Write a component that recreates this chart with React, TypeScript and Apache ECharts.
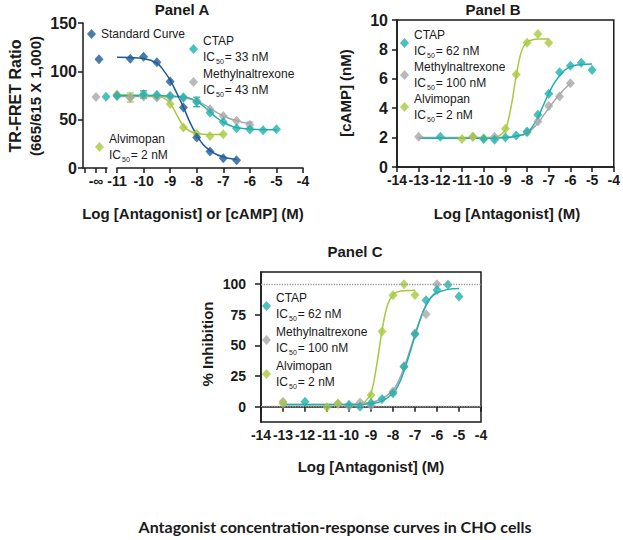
import React, { useEffect, useRef } from "react";
import * as echarts from "echarts";

// ---------- Panel A (TR-FRET ratio) ----------
const aStdInf = 112.5;
const aStdX = [-10.5, -10, -9.5, -9, -8.5, -8, -7.5, -7, -6.5];
const aStdY = [113, 115, 109.5, 89.5, 62.5, 31.5, 17, 10, 8];
const aStdFitX = [-11, -10.5, -10, -9.5, -9.25, -9, -8.75, -8.5, -8.25, -8, -7.75, -7.5, -7.25, -7, -6.75, -6.5];
const aStdFitY = [114.5, 114.2, 113.3, 108.5, 101, 91, 77.5, 63, 47, 34, 24, 18, 14, 11.5, 9.8, 9];

const aCtapInf = 73.8;
const aCtapX = [-11, -10, -9.5, -9, -8.5, -8, -7.5, -7, -6.5, -6, -5.5, -5];
const aCtapY = [74.8, 76.2, 75.9, 74.8, 73.1, 68.3, 57.2, 47.6, 41.2, 39.8, 39, 40.2];
const aCtapFitX = [-11, -10, -9.5, -9, -8.5, -8.25, -8, -7.75, -7.5, -7.25, -7, -6.75, -6.5, -6, -5.5, -5];
const aCtapFitY = [75, 75, 75, 74.5, 73.5, 72, 69, 64, 58, 52, 47.5, 44, 42, 40.3, 39.7, 39.5];

const aMethInf = 73.5;
const aMethX = [-11, -10.5, -10, -9.5, -9, -8.5, -8, -7.5, -7, -6.5, -6];
const aMethY = [74.5, 73, 74, 73, 73.5, 72.5, 69.5, 60.7, 53.8, 49, 44.8];
const aMethFitX = [-11, -10, -9, -8.5, -8, -7.75, -7.5, -7.25, -7, -6.75, -6.5, -6.25, -6];
const aMethFitY = [74, 74, 73.8, 73, 69.5, 66, 62, 57.5, 54, 51, 49, 47, 46];

const aAlviX = [-11, -10.5, -10, -9.5, -9, -8.5, -8, -7.5, -7];
const aAlviY = [76, 73, 75, 74, 66.2, 42, 35.5, 33.1, 34.8];
const aAlviFitX = [-11, -10.5, -10, -9.5, -9.25, -9, -8.75, -8.5, -8.25, -8, -7.75, -7.5, -7];
const aAlviFitY = [75.5, 75.4, 75.2, 74.5, 72.5, 67, 55, 43.5, 38, 35.8, 35, 34.7, 34.6];

// error bars [x, low, high]
const aCtapErr = [[-10, 72.3, 79.8], [-8, 63.4, 73.2]];
const aMethErr = [[-6, 42.2, 47.4]];
const aAlviErr = [[-10.5, 68.3, 77.6]];

// ---------- Panel B (cAMP) ----------
const bCtapX = [-12, -10, -9.5, -9, -8.5, -8, -7.5, -7, -6.5, -6, -5.5, -5];
const bCtapY = [2.05, 1.9, 1.85, 2.0, 2.15, 2.42, 3.55, 4.98, 6.45, 6.88, 7.1, 6.6];
const bCtapFitX = [-13, -12, -11, -10, -9.5, -9, -8.5, -8, -7.75, -7.5, -7.25, -7, -6.75, -6.5, -6.25, -6, -5.5, -5];
const bCtapFitY = [1.95, 1.95, 1.95, 1.95, 1.96, 2.0, 2.1, 2.3, 2.75, 3.35, 4.2, 5.0, 5.7, 6.2, 6.6, 6.83, 6.97, 7.0];

const bMethX = [-13, -10.5, -9.5, -8, -7.5, -7, -6.5, -6];
const bMethY = [2.05, 2.05, 2.05, 2.35, 3.1, 4.15, 4.8, 5.7];
const bMethFitX = [-13, -12, -11, -10, -9, -8.5, -8, -7.5, -7, -6.5, -6];
const bMethFitY = [2.0, 2.0, 2.0, 2.0, 2.0, 2.1, 2.3, 3.0, 4.0, 4.95, 5.7];

const bAlviX = [-11, -10.5, -10, -9, -8.5, -8, -7.5, -7];
const bAlviY = [1.9, 2.05, 1.95, 2.6, 6.3, 8.45, 9.05, 8.45];
const bAlviFitX = [-11, -10, -9.5, -9.25, -9, -8.75, -8.5, -8.25, -8, -7.75, -7.5, -7];
const bAlviFitY = [1.95, 1.95, 2.0, 2.15, 2.55, 4.0, 6.2, 7.9, 8.5, 8.65, 8.7, 8.7];

// ---------- Panel C (% inhibition) ----------
const cCtapX = [-12, -10, -9.5, -9, -8.5, -8, -7.5, -7, -6.5, -6, -5.5, -5];
const cCtapY = [4.1, 1.6, 0, 3, 6.3, 10.9, 32.6, 59.2, 87, 95.4, 99.5, 90];
const cCtapFitX = [-13, -11, -10, -9.5, -9, -8.5, -8, -7.75, -7.5, -7.25, -7, -6.75, -6.5, -6.25, -6, -5.5, -5];
const cCtapFitY = [1.5, 1.5, 1.5, 1.7, 2.5, 4.5, 11, 18, 29, 43, 58, 72, 83, 89.5, 93, 95.8, 96.5];

const cMethX = [-13, -10.5, -10, -9.5, -9, -8, -7.5, -7, -6.5, -6];
const cMethY = [4, 2.7, 0.5, 3.5, 1, 12.5, 33, 60, 75.5, 100];
const cMethFitX = [-13, -10, -9.5, -9, -8.5, -8, -7.75, -7.5, -7.25, -7, -6.75, -6.5, -6.25, -6];
const cMethFitY = [2, 2, 2.5, 3.5, 6.5, 13.5, 21, 32, 45, 59, 72, 82.5, 90, 94.5];

const cAlviX = [-13, -11, -10.5, -9, -8.5, -8, -7.5, -7];
const cAlviY = [2.7, -0.5, 2.5, 9.5, 61.4, 91, 100, 91.3];
const cAlviFitX = [-10, -9.5, -9.25, -9, -8.75, -8.5, -8.25, -8, -7.75, -7.5, -7];
const cAlviFitY = [1.5, 2, 4.5, 11, 33, 62, 83, 91.5, 94, 94.7, 95];

const cRefLines = [0, 100];
const cYTicks = [0, 25, 50, 75, 100];

// "-inf" segment of panel A
const infTicks = [0.2, 1.3, 2.3];
const infLabel = 1.3;
const infPos = { std: 1.6, meth: 1.3, ctap: 2.3 };

const C_STD = "#1c5a97";
const C_CTAP = "#1fb0ac";
const C_METH = "#a8a8a8";
const C_ALVI = "#a9c83e";
const INK = "#1a1a1a";
const FONT = "'Liberation Sans', Arial, sans-serif";

const zip = (xs: number[], ys: number[]) => xs.map((x, i) => [x, ys[i]]);

const axisBase = {
  axisLine: { show: true, lineStyle: { color: INK, width: 1.5 } },
  axisTick: { show: true, length: 5, lineStyle: { color: INK, width: 1.5 } },
  axisLabel: { color: INK, fontFamily: FONT, fontWeight: "bold" as const, fontSize: 14, margin: 6 },
  splitLine: { show: false },
};

function scatter(name: string, color: string, data: number[][], xi: number, yi: number, z = 3) {
  return {
    type: "scatter",
    name,
    xAxisIndex: xi,
    yAxisIndex: yi,
    data,
    symbol: "diamond",
    symbolSize: [9, 10],
    itemStyle: { color },
    z,
    silent: true,
  };
}
function fit(name: string, color: string, data: number[][], xi: number, yi: number) {
  return {
    type: "line",
    name: name + " fit",
    xAxisIndex: xi,
    yAxisIndex: yi,
    data,
    smooth: 0.4,
    showSymbol: false,
    symbol: "none",
    lineStyle: { color, width: 1.5 },
    z: 2,
    silent: true,
  };
}
function errBars(color: string, data: number[][], xi: number, yi: number) {
  return {
    type: "custom",
    xAxisIndex: xi,
    yAxisIndex: yi,
    data,
    encode: { x: 0, y: [1, 2] },
    z: 2,
    silent: true,
    renderItem: (_p: any, api: any) => {
      const x = api.value(0);
      const lo = api.coord([x, api.value(1)]);
      const hi = api.coord([x, api.value(2)]);
      const w = 3.5;
      const st = { stroke: color, lineWidth: 1.3 };
      return {
        type: "group",
        children: [
          { type: "line", shape: { x1: lo[0], y1: lo[1], x2: hi[0], y2: hi[1] }, style: st },
          { type: "line", shape: { x1: hi[0] - w, y1: hi[1], x2: hi[0] + w, y2: hi[1] }, style: st },
          { type: "line", shape: { x1: lo[0] - w, y1: lo[1], x2: lo[0] + w, y2: lo[1] }, style: st },
        ],
      };
    },
  };
}

const rich = {
  t: { fontFamily: FONT, fontSize: 12, color: INK, lineHeight: 16 },
  s: { fontFamily: FONT, fontSize: 7, color: INK, lineHeight: 16, verticalAlign: "bottom" as const, padding: [0, 1, 0, 1] },
};
function legend(names: string[], ic: Record<string, string>, left: number, top: number, gap: number) {
  return {
    data: names,
    left,
    top,
    orient: "vertical",
    icon: "diamond",
    itemWidth: 9,
    itemHeight: 10,
    itemGap: gap,
    padding: 0,
    selectedMode: false,
    textStyle: { rich },
    formatter: (n: string) => (ic[n] ? `{t|${n}}\n{t|IC}{s|50}{t|= ${ic[n]} nM}` : `{t|${n}}`),
  };
}

function text(t: string, x: number, y: number, size: number, rot = 0, font = FONT, weight = "bold") {
  return {
    type: "text",
    x,
    y,
    rotation: rot,
    silent: true,
    style: {
      text: t,
      x: 0,
      y: 0,
      align: "center",
      verticalAlign: "middle",
      fill: INK,
      font: `${weight} ${size}px ${font}`,
    },
  };
}

export default function App() {
  const ref = useRef<HTMLDivElement>(null);
  useEffect(() => {
    if (!ref.current) return;
    const chart = echarts.init(ref.current, null, { renderer: "svg" });
    const option: any = {
      animation: false,
      backgroundColor: "#ffffff",
      grid: [
        { left: 83, top: 23, width: 24, height: 145 },
        { left: 117, top: 23, width: 186, height: 145 },
        { left: 397, top: 20, width: 220, height: 147, show: true, borderColor: INK, borderWidth: 1.5 },
        { left: 261, top: 272, width: 220, height: 150, show: true, borderColor: INK, borderWidth: 1.5 },
      ],
      xAxis: [
        {
          ...axisBase,
          type: "value",
          gridIndex: 0,
          min: 0,
          max: 2.4,
          axisTick: { ...axisBase.axisTick, customValues: infTicks },
          axisLabel: { ...axisBase.axisLabel, customValues: [infLabel], formatter: () => "-∞" },
        },
        { ...axisBase, type: "value", gridIndex: 1, min: -11, max: -4, interval: 1, axisLabel: { ...axisBase.axisLabel, interval: 0 } },
        { ...axisBase, type: "value", gridIndex: 2, min: -14, max: -4, interval: 1, axisLabel: { ...axisBase.axisLabel, interval: 0 } },
        { ...axisBase, type: "value", gridIndex: 3, min: -14, max: -4, interval: 1, axisLabel: { ...axisBase.axisLabel, interval: 0 } },
      ],
      yAxis: [
        { ...axisBase, type: "value", gridIndex: 0, min: 0, max: 150, interval: 50, axisLabel: { ...axisBase.axisLabel, fontSize: 16, margin: 6 } },
        { type: "value", gridIndex: 1, min: 0, max: 150, show: false, splitLine: { show: false } },
        { ...axisBase, type: "value", gridIndex: 2, min: 0, max: 10, interval: 2, axisLabel: { ...axisBase.axisLabel, fontSize: 16, margin: 9 } },
        {
          ...axisBase,
          type: "value",
          gridIndex: 3,
          min: -12.5,
          max: 110,
          axisTick: { ...axisBase.axisTick, length: 6, customValues: cYTicks },
          axisLabel: { ...axisBase.axisLabel, margin: 15, customValues: cYTicks },
        },
      ],
      legend: [
        legend(["Standard Curve"], {}, 87, 28, 0),
        legend(["CTAP", "Methylnaltrexone"], { CTAP: "33", Methylnaltrexone: "43" }, 189, 35, 3),
        legend(["Alvimopan"], { Alvimopan: "2" }, 95, 133, 0),
        legend(["CTAP", "Methylnaltrexone", "Alvimopan"], { CTAP: "62", Methylnaltrexone: "100", Alvimopan: "2" }, 400, 29, 2),
        legend(["CTAP", "Methylnaltrexone", "Alvimopan"], { CTAP: "62", Methylnaltrexone: "100", Alvimopan: "2" }, 262, 292, 4),
      ],
      series: [
        // Panel A, -inf segment
        scatter("Methylnaltrexone", C_METH, [[infPos.meth, aMethInf]], 0, 0),
        scatter("CTAP", C_CTAP, [[infPos.ctap, aCtapInf]], 0, 0),
        scatter("Standard Curve", C_STD, [[infPos.std, aStdInf]], 0, 0),
        // Panel A main
        fit("Methylnaltrexone", C_METH, zip(aMethFitX, aMethFitY), 1, 1),
        fit("Alvimopan", C_ALVI, zip(aAlviFitX, aAlviFitY), 1, 1),
        fit("CTAP", C_CTAP, zip(aCtapFitX, aCtapFitY), 1, 1),
        fit("Standard Curve", C_STD, zip(aStdFitX, aStdFitY), 1, 1),
        errBars(C_METH, aMethErr, 1, 1),
        errBars(C_ALVI, aAlviErr, 1, 1),
        errBars(C_CTAP, aCtapErr, 1, 1),
        scatter("Alvimopan", C_ALVI, zip(aAlviX, aAlviY), 1, 1),
        scatter("Methylnaltrexone", C_METH, zip(aMethX, aMethY), 1, 1),
        scatter("CTAP", C_CTAP, zip(aCtapX, aCtapY), 1, 1),
        scatter("Standard Curve", C_STD, zip(aStdX, aStdY), 1, 1, 4),
        // Panel B
        fit("Methylnaltrexone", C_METH, zip(bMethFitX, bMethFitY), 2, 2),
        fit("Alvimopan", C_ALVI, zip(bAlviFitX, bAlviFitY), 2, 2),
        fit("CTAP", C_CTAP, zip(bCtapFitX, bCtapFitY), 2, 2),
        scatter("Methylnaltrexone", C_METH, zip(bMethX, bMethY), 2, 2),
        scatter("Alvimopan", C_ALVI, zip(bAlviX, bAlviY), 2, 2),
        scatter("CTAP", C_CTAP, zip(bCtapX, bCtapY), 2, 2),
        // Panel C
        {
          type: "line",
          name: "ref",
          xAxisIndex: 3,
          yAxisIndex: 3,
          data: [],
          silent: true,
          markLine: {
            silent: true,
            symbol: "none",
            label: { show: false },
            lineStyle: { type: "dotted", color: "#9a9a9a", width: 1.3 },
            data: cRefLines.map((v) => ({ yAxis: v })),
          },
        },
        fit("Methylnaltrexone", C_METH, zip(cMethFitX, cMethFitY), 3, 3),
        fit("Alvimopan", C_ALVI, zip(cAlviFitX, cAlviFitY), 3, 3),
        fit("CTAP", C_CTAP, zip(cCtapFitX, cCtapFitY), 3, 3),
        scatter("Methylnaltrexone", C_METH, zip(cMethX, cMethY), 3, 3),
        scatter("Alvimopan", C_ALVI, zip(cAlviX, cAlviY), 3, 3),
        scatter("CTAP", C_CTAP, zip(cCtapX, cCtapY), 3, 3),
      ],
      graphic: [
        text("Panel A", 182, 9, 15),
        text("Panel B", 493, 9, 15),
        text("Panel C", 355, 251, 15),
        text("TR-FRET Ratio", 15, 96, 16, Math.PI / 2),
        text("(665/615 X 1,000)", 35, 96, 15, Math.PI / 2),
        text("Log [Antagonist] or [cAMP] (M)", 193, 213, 15),
        text("[cAMP] (nM)", 345, 93, 15, Math.PI / 2),
        text("Log [Antagonist] (M)", 507, 213, 15),
        text("% Inhibition", 207, 344, 15, Math.PI / 2),
        text("Log [Antagonist] (M)", 371, 466, 15),
        text("Antagonist concentration-response curves in CHO cells", 335, 526, 16, 0, "Lato, 'Open Sans', sans-serif", "bold"),
      ],
    };
    chart.setOption(option);
    return () => chart.dispose();
  }, []);
  return <div ref={ref} style={{ position: "fixed", left: 0, top: 0, width: 623, height: 540 }} />;
}
